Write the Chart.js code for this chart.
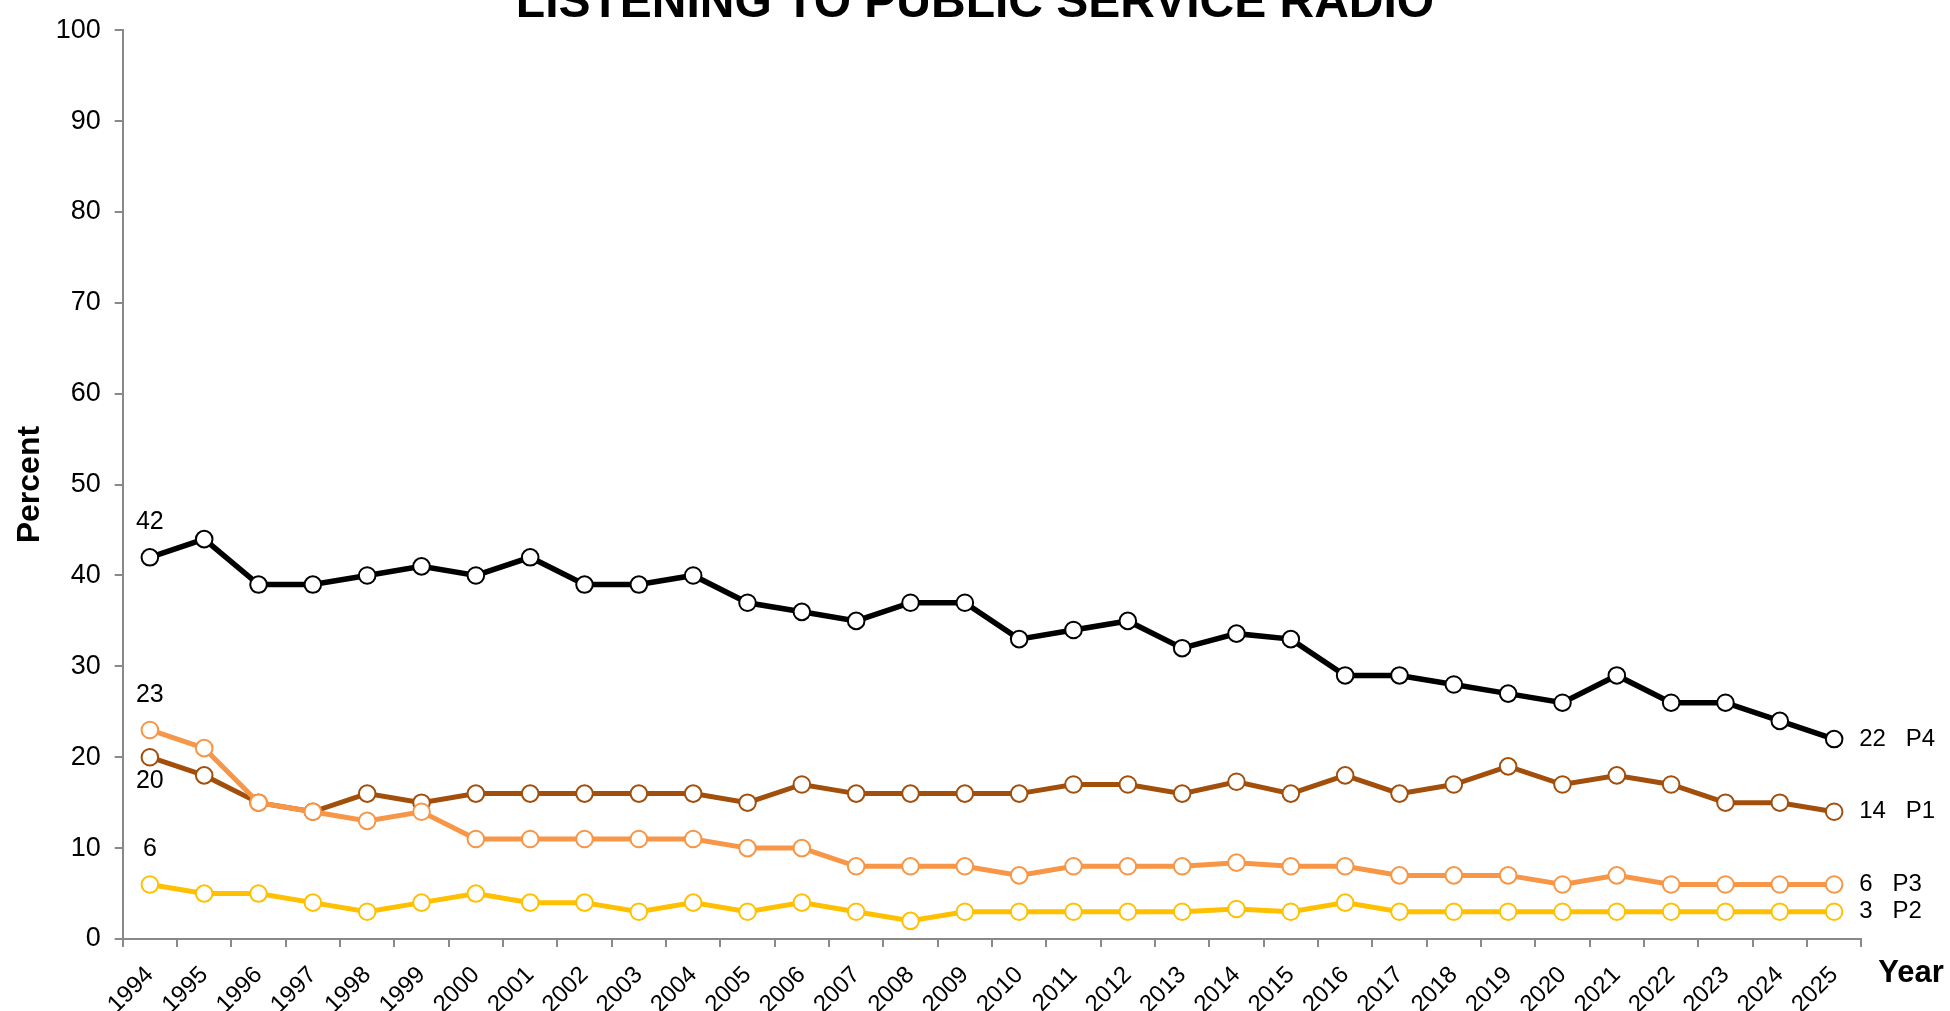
<!DOCTYPE html>
<html>
<head>
<meta charset="utf-8">
<script src="https://cdn.jsdelivr.net/npm/chart.js@4.4.1/dist/chart.umd.min.js"></script>
<style>
  html, body { margin: 0; padding: 0; background: #ffffff; overflow: hidden; }
  #wrap { position: absolute; left: 0; top: 0; width: 1950px; height: 1011px; }
</style>
</head>
<body>
<div id="wrap"><canvas id="c" width="1950" height="1011"></canvas></div>
<script>
const years = ['1994','1995','1996','1997','1998','1999','2000','2001','2002','2003','2004','2005','2006','2007','2008','2009','2010','2011','2012','2013','2014','2015','2016','2017','2018','2019','2020','2021','2022','2023','2024','2025'];
const p4 = [42,44,39,39,40,41,40,42,39,39,40,37,36,35,37,37,33,34,35,32,33.6,33,29,29,28,27,26,29,26,26,24,22];
const p1 = [20,18,15,14,16,15,16,16,16,16,16,15,17,16,16,16,16,17,17,16,17.3,16,18,16,17,19,17,18,17,15,15,14];
const p3 = [23,21,15,14,13,14,11,11,11,11,11,10,10,8,8,8,7,8,8,8,8.4,8,8,7,7,7,6,7,6,6,6,6];
const p2 = [6,5,5,4,3,4,5,4,4,3,4,3,4,3,2,3,3,3,3,3,3.3,3,4,3,3,3,3,3,3,3,3,3];
const seriesNames = ['P4','P3','P1','P2'];
const yTicks = [0,10,20,30,40,50,60,70,80,90,100];

const FONT = '"Liberation Sans", Arial, Helvetica, sans-serif';
const AXIS_GREY = '#898989';

function series(name, data, color, width, side) {
  return {
    label: name,
    data: data,
    borderColor: color,
    backgroundColor: color,
    borderWidth: width,
    pointRadius: 8.3,
    pointHoverRadius: 8.3,
    pointBorderWidth: 2,
    pointBackgroundColor: '#ffffff',
    pointBorderColor: color,
    tension: 0,
    clip: false,
    labelSide: side
  };
}

const labelPlugin = {
  id: 'seriesLabels',
  afterDatasetsDraw(chart) {
    const ctx = chart.ctx;
    ctx.save();
    ctx.fillStyle = '#000000';
    chart.data.datasets.forEach((ds, i) => {
      const meta = chart.getDatasetMeta(i);
      const pts = meta.data;
      const first = pts[0];
      const last = pts[pts.length - 1];
      // first value label
      ctx.font = '25px ' + FONT;
      ctx.textAlign = 'center';
      ctx.textBaseline = 'middle';
      const fy = ds.labelSide === 'below' ? first.y + 24 : first.y - 35;
      ctx.fillText(String(ds.data[0]), first.x, fy);
      // end label: value + series name
      ctx.font = '24px ' + FONT;
      ctx.textAlign = 'left';
      const val = String(ds.data[ds.data.length - 1]);
      const lx = last.x + 25;
      ctx.fillText(val, lx, last.y);
      const nx = lx + ctx.measureText(val + '   ').width;
      ctx.fillText(ds.label, nx, last.y);
    });
    // x-axis title "Year" placed at the right end of the axis
    const xs = chart.scales.x;
    ctx.font = 'bold 31px ' + FONT;
    ctx.textAlign = 'left';
    ctx.textBaseline = 'alphabetic';
    ctx.fillText('Year', xs.right + 17, xs.top + 43);
    ctx.restore();
  }
};

new Chart(document.getElementById('c'), {
  type: 'line',
  data: {
    labels: years,
    datasets: [
      series(seriesNames[0], p4, '#000000', 5.5, 'above'),
      series(seriesNames[1], p3, '#F79646', 5, 'above'),
      series(seriesNames[2], p1, '#A24F0C', 5, 'below'),
      series(seriesNames[3], p2, '#FFC000', 5, 'above')
    ]
  },
  options: {
    responsive: false,
    devicePixelRatio: 1,
    animation: false,
    events: [],
    layout: { padding: { top: 0, right: 0, bottom: 0, left: 0 } },
    plugins: {
      legend: { display: false },
      tooltip: { enabled: false },
      title: {
        display: true,
        text: 'LISTENING TO PUBLIC SERVICE RADIO',
        color: '#000000',
        font: { family: FONT, size: 48, weight: 'bold', lineHeight: 1 },
        padding: { top: -26.5, bottom: 2.5 }
      }
    },
    scales: {
      x: {
        type: 'category',
        offset: true,
        grid: { offset: true, drawOnChartArea: false, drawTicks: true, tickLength: 8, color: AXIS_GREY, lineWidth: 2 },
        border: { display: true, color: AXIS_GREY, width: 2 },
        ticks: {
          autoSkip: false,
          minRotation: 45,
          maxRotation: 45,
          padding: 14,
          color: '#000000',
          font: { family: FONT, size: 24 }
        },
        afterFit(scale) { scale.height = 72; }
      },
      y: {
        min: 0,
        max: 100,
        afterBuildTicks(scale) { scale.ticks = yTicks.map(v => ({ value: v })); },
        grid: { drawOnChartArea: false, drawTicks: true, tickLength: 8, color: AXIS_GREY, lineWidth: 2 },
        border: { display: true, color: AXIS_GREY, width: 2 },
        ticks: {
          padding: 14,
          color: '#000000',
          font: { family: FONT, size: 27 }
        },
        title: {
          display: true,
          text: 'Percent',
          color: '#000000',
          font: { family: FONT, size: 32, weight: 'bold', lineHeight: 1 },
          padding: { top: 14.5, bottom: 0 }
        },
        afterFit(scale) { scale.width = 122.7; }
      },
      yRight: {
        position: 'right',
        display: true,
        min: 0,
        max: 100,
        grid: { display: false, drawTicks: false },
        border: { display: false },
        ticks: { display: false },
        afterFit(scale) { scale.width = 88.7; }
      }
    }
  },
  plugins: [labelPlugin]
});
</script>
</body>
</html>
